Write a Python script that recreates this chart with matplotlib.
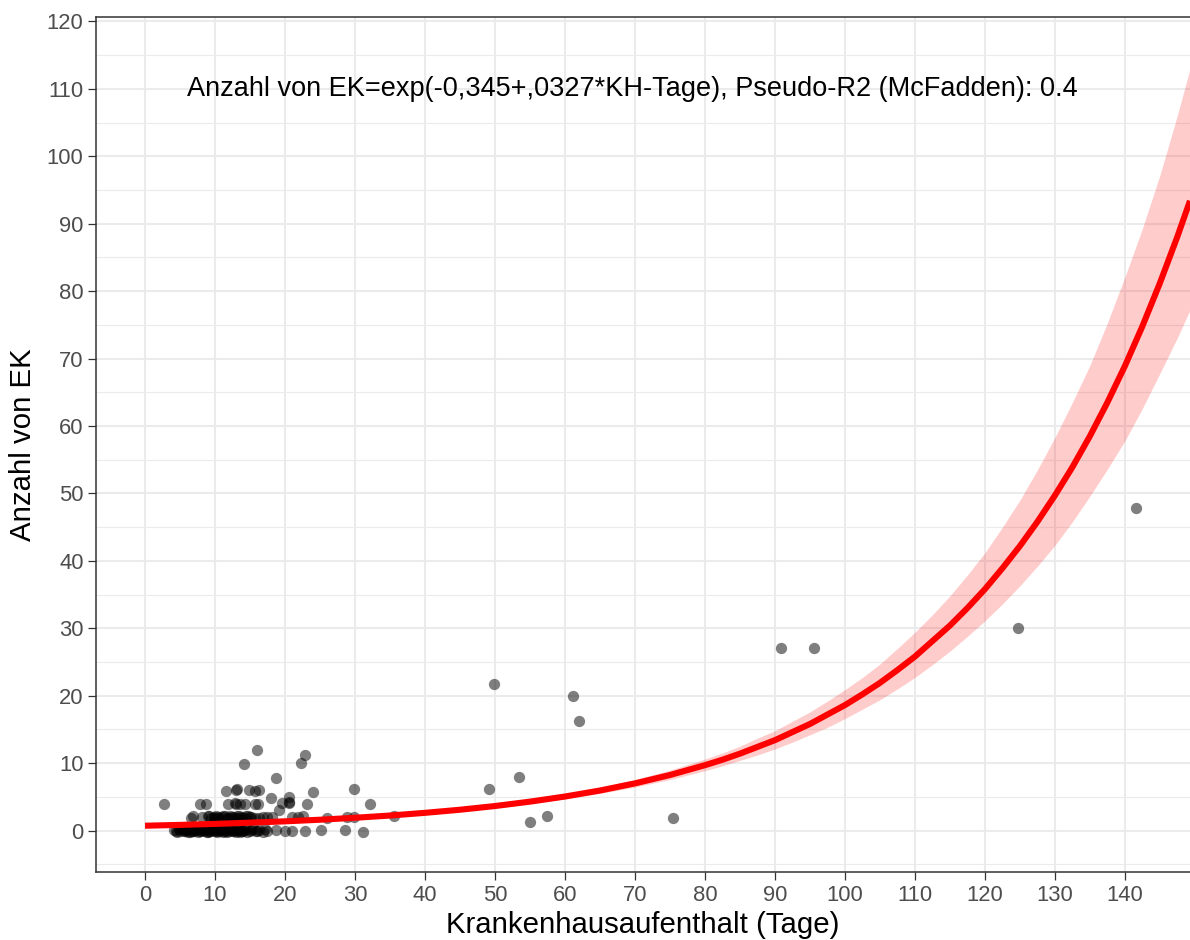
import matplotlib
matplotlib.use('Agg')
import matplotlib.pyplot as plt
from matplotlib.ticker import FixedLocator

plt.rcParams['font.family'] = ['Liberation Sans', 'DejaVu Sans']

# Beobachtungen: Krankenhausaufenthalt (Tage) und Anzahl von EK (leicht gejittert)
days = [
    # Reihe um 0
    4.2, 4.6, 5.0, 5.3, 5.7, 6.0, 6.2, 6.5, 6.8, 7.0, 7.3, 7.6, 7.9, 8.1, 8.4,
    8.7, 9.0, 9.2, 9.5, 9.8, 10.1, 10.3, 10.6, 10.9, 11.2, 11.4, 11.7, 12.0,
    12.2, 12.5, 12.8, 13.0, 13.3, 13.6, 13.9, 14.2, 14.6, 15.0, 15.4, 15.8,
    16.3, 16.9, 17.4, 18.7, 20.0, 21.0, 22.9, 25.2, 28.6, 31.1,
    4.4, 4.9, 5.5, 5.9, 6.4, 6.9, 7.4, 7.8, 8.3, 8.8, 9.3, 9.7, 10.2, 10.7,
    11.1, 11.6, 12.1, 12.6, 13.1, 13.5, 14.0, 14.4, 15.2, 16.0, 17.1,
    # Reihe um 2
    6.6, 6.8, 8.1, 9.0, 9.4, 9.8, 10.2, 10.6, 11.0, 11.4, 11.8, 12.2, 12.6,
    13.0, 13.4, 13.8, 14.2, 14.7, 15.2, 15.7, 16.9, 18.1, 21.0, 21.9, 22.6,
    26.0, 28.8, 29.8, 35.6,
    9.2, 9.9, 10.4, 11.2, 11.9, 12.4, 13.1, 13.6, 14.4, 15.0, 16.3, 17.4,
    # Reihe um 4
    2.7, 7.8, 8.7, 11.8, 12.8, 13.0, 13.5, 14.3, 15.7, 16.2, 18.0, 19.2, 19.6,
    20.6, 20.6, 20.6, 23.2, 32.1,
    # Reihe um 6
    11.6, 13.0, 13.2, 14.8, 15.7, 16.3, 24.0, 29.8,
    # darueber
    18.7, 14.2, 22.3, 22.8, 16.0,
    # Ausreisser
    49.1, 49.9, 53.4, 55.0, 57.4, 61.1, 62.0, 75.4, 90.9, 95.6, 124.7, 141.6,
]
ek = [
    0.1, -0.2, 0.0, 0.2, -0.1, 0.1, -0.2, 0.0, 0.2, -0.1, 0.1, -0.2, 0.0, 0.2,
    -0.1, 0.1, -0.2, 0.0, 0.2, -0.1, 0.1, -0.2, 0.0, 0.2, -0.1, 0.1, -0.2, 0.0,
    0.2, -0.1, 0.1, -0.2, 0.0, 0.2, -0.1, 0.1, -0.2, 0.0, 0.2, -0.1,
    0.1, -0.2, 0.0, 0.1, -0.1, 0.0, 0.0, 0.1, 0.1, -0.2,
    0.0, 0.2, -0.1, 0.1, -0.2, 0.0, 0.2, -0.1, 0.1, -0.2, 0.0, 0.2, -0.1, 0.1,
    -0.2, 0.0, 0.2, -0.1, 0.1, -0.2, 0.0, 0.2, 0.1, -0.1, 0.2,
    1.9, 2.1, 2.0, 2.1, 1.9, 2.0, 2.2, 1.8, 2.0, 2.1, 1.9, 2.2, 2.0,
    1.8, 2.1, 2.0, 1.9, 2.2, 2.0, 1.9, 2.0, 2.0, 2.0, 2.0, 2.2,
    1.9, 2.0, 2.0, 2.1,
    2.1, 1.9, 2.0, 2.1, 1.9, 2.0, 2.2, 1.9, 2.1, 2.0, 1.9, 2.0,
    3.9, 4.0, 3.9, 4.0, 4.1, 4.0, 4.0, 4.0, 3.9, 4.0, 4.8, 3.0, 4.1,
    4.1, 4.3, 4.9, 4.0, 4.0,
    5.9, 6.0, 6.1, 6.0, 5.8, 6.0, 5.7, 6.1,
    7.8, 9.9, 10.0, 11.2, 12.0,
    6.1, 21.8, 8.0, 1.2, 2.1, 19.9, 16.3, 1.9, 27.1, 27.0, 30.1, 47.9,
]

# Modellkurve mit Konfidenzband
fit_x = [0, 5, 10, 15, 20, 25, 30, 35, 40, 45, 50, 55, 60, 65, 70, 75,
         80, 82.5, 85, 87.5, 90, 92.5, 95, 97.5, 100, 102.5, 105, 107.5,
         110, 112.5, 115, 117.5, 120, 122.5, 125, 127.5, 130, 132.5, 135,
         137.5, 140, 142.5, 145, 147.5, 149.3]
fit_y = [0.71, 0.83, 0.98, 1.16, 1.36, 1.60, 1.89, 2.22, 2.62, 3.08, 3.63,
         4.28, 5.04, 5.93, 6.99, 8.23,
         9.69, 10.5, 11.4, 12.4, 13.4, 14.6, 15.8, 17.2, 18.6, 20.2, 21.9,
         23.8, 25.8, 28.1, 30.4, 33.0, 35.8, 38.9, 42.2, 45.8, 49.7, 53.9,
         58.5, 63.5, 68.9, 74.8, 81.2, 88.1, 93.4]
fit_lo = [0.67, 0.79, 0.94, 1.11, 1.31, 1.54, 1.82, 2.12, 2.49, 2.92, 3.42,
          4.01, 4.70, 5.50, 6.45, 7.56,
          8.86, 9.59, 10.4, 11.2, 12.1, 13.1, 14.2, 15.3, 16.6, 18.0, 19.4,
          21.0, 22.7, 24.6, 26.6, 28.8, 31.1, 33.6, 36.3, 39.2, 42.3, 45.8,
          49.6, 53.6, 57.8, 62.6, 67.8, 73.1, 77.2]
fit_hi = [0.75, 0.87, 1.03, 1.21, 1.42, 1.67, 1.97, 2.32, 2.75, 3.25, 3.85,
          4.57, 5.41, 6.39, 7.57, 8.96,
          10.6, 11.5, 12.5, 13.7, 14.8, 16.2, 17.6, 19.2, 20.9, 22.7, 24.7,
          27.0, 29.4, 32.0, 34.8, 37.9, 41.2, 45.0, 49.0, 53.5, 58.3, 63.5,
          69.0, 75.3, 82.1, 89.3, 97.2, 106.1, 113.0]

x_ticks = list(range(0, 141, 10))
y_ticks = list(range(0, 121, 10))
y_minor = list(range(-5, 116, 10))

fig = plt.figure(figsize=(11.9, 9.4), dpi=100)
ax = fig.add_axes([0.0807, 0.0723, 0.9193, 0.9096])

ax.scatter(days, ek, s=66, color='black', alpha=0.5, linewidths=0, zorder=2)
ax.fill_between(fit_x, fit_lo, fit_hi, color='red', alpha=0.2, linewidth=0, zorder=3)
ax.plot(fit_x, fit_y, color='red', linewidth=4.4, solid_capstyle='butt',
        solid_joinstyle='round', zorder=4)

ax.text(69.6, 110, 'Anzahl von EK=exp(-0,345+,0327*KH-Tage), Pseudo-R2 (McFadden): 0.4',
        ha='center', va='center', fontsize=19.5, color='black')

ax.set_xlim(-7.0, 149.3)
ax.set_ylim(-6.16, 120.66)
ax.xaxis.set_major_locator(FixedLocator(x_ticks))
ax.yaxis.set_major_locator(FixedLocator(y_ticks))
ax.yaxis.set_minor_locator(FixedLocator(y_minor))

ax.grid(True, which='major', color='#EBEBEB', linewidth=1.5, zorder=0)
ax.grid(True, which='minor', axis='y', color='#EBEBEB', linewidth=0.8, zorder=0)
ax.set_axisbelow(True)

ax.tick_params(axis='both', which='major', length=5.5, width=0.9, color='#333333',
               labelcolor='#4D4D4D', labelsize=15.8, pad=3.5)
ax.tick_params(axis='y', which='minor', length=0)

for side in ['left', 'top', 'bottom']:
    ax.spines[side].set_color('#333333')
    ax.spines[side].set_linewidth(1.1)
ax.spines['right'].set_visible(False)

ax.set_xlabel('Krankenhausaufenthalt (Tage)', fontsize=21.2, labelpad=4)
ax.set_ylabel('Anzahl von EK', fontsize=21.2, labelpad=7)

fig.savefig('out.png', dpi=100)
